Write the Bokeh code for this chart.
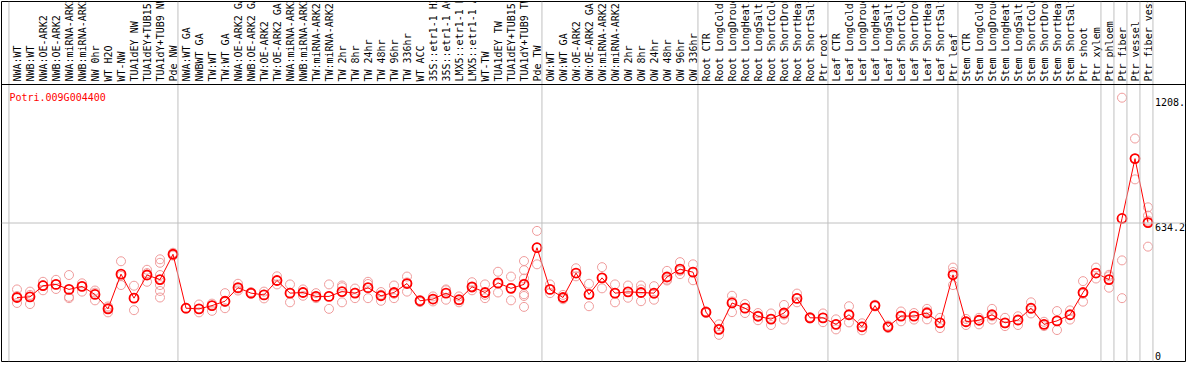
import math
from bokeh.plotting import figure
from bokeh.models import Range1d, Span, ColumnDataSource
from bokeh.core.properties import value
from bokeh.embed import file_html
from bokeh.resources import INLINE

gene = "Potri.009G004400"

group_sizes = [13, 28, 12, 10, 10, 11, 1, 1, 1, 1]

labels = [
    "NWA:WT", "NWB:WT", "NWA:OE-ARK2", "NWB:OE-ARK2", "NWA:miRNA-ARK2", "NWB:miRNA-ARK2",
    "NW 0hr", "WT H2O", "WT-NW", "TUA1dEY NW", "TUA1dEY+TUB15", "TUA1dY+TUB9 NW", "Pde NW",
    "NWA:WT GA", "NWBWT GA", "TW:WT", "TW:WT GA", "NWA:OE-ARK2 GA", "NWB:OE-ARK2 GA",
    "TW:OE-ARK2", "TW:OE-ARK2 GA", "NWA:miRNA-ARK2", "NWB:miRNA-ARK2", "TW:miRNA-ARK2",
    "TW:miRNA-ARK2", "TW 2hr", "TW 8hr", "TW 24hr", "TW 48hr", "TW 96hr", "TW 336hr",
    "WT ACC", "35S::etr1-1 H2O", "35S::etr1-1 ACC", "LMX5::etr1-1 H2O", "LMX5::etr1-1 ACC",
    "WT-TW", "TUA1dEY TW", "TUA1dEY+TUB15", "TUA1dY+TUB9 TW", "Pde TW",
    "OW:WT", "OW:WT GA", "OW:OE-ARK2", "OW:OE-ARK2 GA", "OW:miRNA-ARK2", "OW:miRNA-ARK2",
    "OW 2hr", "OW 8hr", "OW 24hr", "OW 48hr", "OW 96hr", "OW 336hr",
    "Root CTR", "Root LongCold", "Root LongDrought", "Root LongHeat", "Root LongSalt",
    "Root ShortCold", "Root ShortDrought", "Root ShortHeat", "Root ShortSalt", "Ptr root",
    "Leaf CTR", "Leaf LongCold", "Leaf LongDrought", "Leaf LongHeat", "Leaf LongSalt",
    "Leaf ShortCold", "Leaf ShortDrought", "Leaf ShortHeat", "Leaf ShortSalt", "Ptr leaf",
    "Stem CTR", "Stem LongCold", "Stem LongDrought", "Stem LongHeat", "Stem LongSalt",
    "Stem ShortCold", "Stem ShortDrought", "Stem ShortHeat", "Stem ShortSalt", "Ptr shoot",
    "Ptr xylem", "Ptr phloem", "Ptr fiber", "Ptr vessel", "Ptr fiber vessel",
]

means = [
    293, 296, 347, 353, 330, 344, 307, 241, 400, 290, 396, 375, 491,
    244, 241, 256, 276, 338, 313, 305, 371, 313, 316, 298, 298, 320, 313, 338, 301,
    316, 357, 278, 286, 313, 283, 342, 316, 360, 335, 353, 521,
    330, 293, 405, 307, 383, 313, 319, 316, 313, 387, 423, 409,
    226, 147, 268, 244, 207, 194, 222, 289, 200, 200,
    170, 214, 159, 256, 159, 208, 208, 222, 177, 397,
    182, 189, 214, 177, 190, 244, 170, 186, 214, 316, 405,
    375, 655, 929, 636,
]

replicates = [
    [330, 300, 268], [320, 305, 263], [365, 350, 326], [374, 353, 332], [396, 296, 290],
    [358, 344, 320], [325, 315, 280], [252, 246, 225], [459, 392, 350], [347, 290, 235],
    [420, 405, 365], [468, 452, 396, 350, 323, 293], [498, 485],
    [246, 242], [261, 240, 225], [265, 255, 232], [313, 272, 244], [356, 334, 325],
    [318, 310, 312], [320, 306, 289], [390, 370, 353], [353, 315, 271], [330, 318, 301],
    [313, 298, 290], [353, 300, 241], [348, 340, 271], [334, 315, 290], [365, 355, 290],
    [318, 306, 278], [348, 310, 290], [389, 362, 320], [282, 278, 272], [298, 285, 275],
    [326, 330, 283], [298, 280, 271], [363, 338, 326], [353, 305, 290], [411, 355, 316],
    [389, 337, 280], [460, 418, 380, 356, 308, 300, 250], [598, 521, 445],
    [353, 330, 313], [305, 290, 285], [427, 405, 390], [356, 310, 253], [432, 383, 335],
    [353, 313, 271], [348, 318, 292], [348, 330, 276], [345, 310, 283], [415, 375, 371],
    [455, 415, 400], [445, 410, 372],
    [230, 226, 222], [170, 150, 122], [301, 275, 226], [263, 246, 222], [222, 210, 189],
    [220, 195, 167], [259, 215, 192], [311, 290, 271], [204, 200, 197], [220, 200, 180],
    [193, 170, 147], [253, 212, 179], [175, 160, 143], [260, 256, 252], [165, 159, 153],
    [229, 210, 184], [222, 208, 192], [241, 228, 193], [200, 177, 153], [430, 410, 350],
    [195, 182, 167], [200, 189, 170], [241, 207, 192], [200, 175, 162], [207, 190, 167],
    [271, 240, 220], [182, 170, 162], [231, 186, 144], [234, 214, 192], [368, 310, 274],
    [430, 405, 380], [397, 390, 338], [1208, 463, 290], [1021, 929, 834], [706, 668, 645, 526],
]

y_max = 1208.0
y_ticks = [0, 634.2, 1208.0]
y_tick_labels = ["0", "634.2", "1208."]

# ---- layout geometry (pixels) ----
FRAME_W, FRAME_H = 1184, 360
COL_W = 13.0
FIRST_X = 15.5          # px from frame left to first column centre
DATA_H = 277.0          # px height of the data area (bottom part of frame)
y_top = y_max * 1.05    # value at top of data area
x0 = -FIRST_X / COL_W
x1 = x0 + FRAME_W / COL_W
y_end = y_top * FRAME_H / DATA_H

FONT = value("DejaVu Sans Mono")

p = figure(width=FRAME_W + 2, height=FRAME_H + 2,
           x_range=Range1d(x0, x1), y_range=Range1d(0, y_end),
           x_axis_type=None, y_axis_type=None,
           toolbar_location=None, output_backend="svg")
p.min_border_left = 1
p.min_border_right = 1
p.min_border_top = 1
p.min_border_bottom = 1
p.grid.visible = False
p.outline_line_color = "black"
p.outline_line_width = 1
p.background_fill_color = "white"
p.border_fill_color = "white"

n = len(labels)
xs = list(range(n))

# group separators
starts = []
s = 0
for g in group_sizes:
    starts.append(s)
    s += g
seps = [st - 0.62 for st in starts] + [n - 0.62]
for sx in seps:
    p.add_layout(Span(location=sx, dimension="height", line_color="#c0c0c0", line_width=1))

# horizontal lines
p.add_layout(Span(location=y_ticks[1], dimension="width", line_color="#c0c0c0", line_width=1))
p.add_layout(Span(location=y_top, dimension="width", line_color="black", line_width=1))

# category labels (vertical)
lab_src = ColumnDataSource(dict(x=xs, y=[y_top] * n, t=labels))
p.text(x="x", y="y", text="t", source=lab_src, angle=math.pi / 2,
       text_align="left", text_baseline="middle", y_offset=-3,
       text_font=FONT, text_font_size="10px", text_color="black")

# gene label
p.text(x=[seps[0]], y=[y_top], text=[gene], text_align="left", text_baseline="top",
       x_offset=0.5, y_offset=7, text_font=FONT, text_font_size="10px", text_color="red")

# y tick labels on the right
p.text(x=[n - 1] * 2, y=y_ticks[1:], text=y_tick_labels[1:], text_align="left",
       text_baseline="top", x_offset=7, y_offset=0,
       text_font=FONT, text_font_size="10px", text_color="black")
p.text(x=[n - 1], y=[y_ticks[0]], text=[y_tick_labels[0]], text_align="left",
       text_baseline="bottom", x_offset=7, y_offset=-2,
       text_font=FONT, text_font_size="10px", text_color="black")

# replicates
rx, ry = [], []
for i, reps in enumerate(replicates):
    for r in reps:
        rx.append(i)
        ry.append(r)
p.scatter(rx, ry, marker="circle", size=9, fill_color=None,
          line_color="#f09c9c", line_width=1)

# means
p.line(xs, means, line_color="red", line_width=1)
p.scatter(xs, means, marker="circle", size=9, fill_color=None,
          line_color="red", line_width=1.8)

open("out.html", "w").write(file_html(p, INLINE))
